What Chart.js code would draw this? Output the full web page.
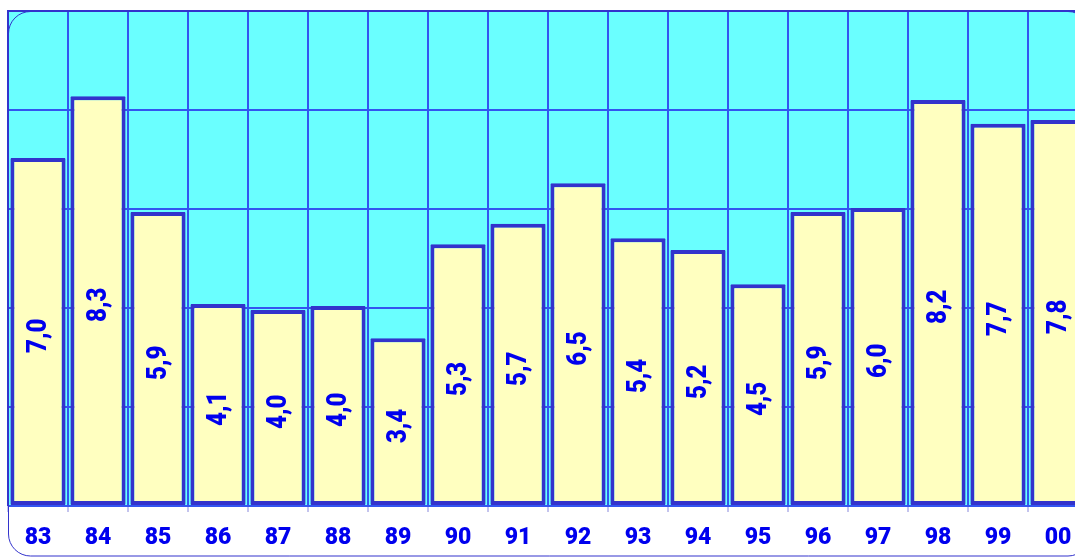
<!DOCTYPE html>
<html>
<head>
<meta charset="utf-8">
<script src="https://cdn.jsdelivr.net/npm/chart.js@4/dist/chart.umd.min.js"></script>
<style>
html,body{margin:0;padding:0;background:#fff;overflow:hidden;}
#wrap{width:1100px;height:557px;position:relative;}
</style>
</head>
<body>
<div id="wrap"><canvas id="c" width="1100" height="557"></canvas></div>
<script>
const categories = ['83','84','85','86','87','88','89','90','91','92','93','94','95','96','97','98','99','00'];
const values = [7.03, 8.28, 5.94, 4.08, 3.96, 4.04, 3.39, 5.29, 5.70, 6.52, 5.41, 5.17, 4.48, 5.94, 6.02, 8.20, 7.72, 7.80];
const valueLabels = ['7,0','8,3','5,9','4,1','4,0','4,0','3,4','5,3','5,7','6,5','5,4','5,2','4,5','5,9','6,0','8,2','7,7','7,8'];
const yTicks = [0, 2, 4, 6, 8, 10];

const FAMILY = 'Roboto, "Liberation Sans", sans-serif';
const LINE = '#3333cc';
const GRID = '#3355f0';
const TEXT = '#0000ee';

const bgPlugin = {
  id: 'bg',
  beforeDraw(chart) {
    const {ctx, chartArea: a} = chart;
    ctx.save();
    ctx.fillStyle = '#6affff';
    ctx.fillRect(a.left, a.top, a.right - a.left, a.bottom - a.top);
    ctx.restore();
  },
  afterDatasetsDraw(chart) {
    const {ctx, chartArea: a} = chart;
    const meta = chart.getDatasetMeta(0);
    ctx.save();
    ctx.fillStyle = TEXT;
    ctx.font = '900 28px ' + FAMILY;
    ctx.textAlign = 'center';
    ctx.textBaseline = 'middle';
    meta.data.forEach((bar, i) => {
      const cy = (bar.y + bar.base) / 2;
      ctx.save();
      ctx.translate(bar.x, cy);
      ctx.rotate(-Math.PI / 2);
      ctx.scale(0.86, 1);
      ctx.fillText(valueLabels[i], -5, 1);
      ctx.restore();
    });
    // plot frame top & left
    ctx.strokeStyle = LINE;
    ctx.lineWidth = 2;
    ctx.beginPath();
    ctx.moveTo(a.left, a.bottom);
    ctx.lineTo(a.left, a.top);
    ctx.lineTo(a.right, a.top);
    ctx.stroke();
    // outer rounded frame
    ctx.lineWidth = 1;
    const x0 = a.left + 0.5, y0 = a.top + 0.5, x1 = 1090, y1 = 556, r = 22;
    ctx.beginPath();
    ctx.moveTo(x0 + r, y0);
    ctx.lineTo(x1 - r, y0);
    ctx.arcTo(x1, y0, x1, y0 + r, r);
    ctx.lineTo(x1, y1 - r);
    ctx.arcTo(x1, y1, x1 - r, y1, r);
    ctx.lineTo(x0 + r, y1);
    ctx.arcTo(x0, y1, x0, y1 - r, r);
    ctx.lineTo(x0, y0 + r);
    ctx.arcTo(x0, y0, x0 + r, y0, r);
    ctx.stroke();
    ctx.restore();
  }
};

new Chart(document.getElementById('c'), {
  type: 'bar',
  data: {
    labels: categories,
    datasets: [{
      data: values,
      backgroundColor: '#ffffc0',
      borderColor: LINE,
      borderWidth: 4,
      borderSkipped: false,
      borderRadius: 1,
      barPercentage: 0.92,
      categoryPercentage: 1.0
    }]
  },
  options: {
    responsive: false,
    animation: false,
    layout: { padding: { left: 8, top: 11, right: 12, bottom: 0 } },
    plugins: { legend: { display: false }, tooltip: { enabled: false } },
    scales: {
      x: {
        afterFit(axis) { axis.height = 51; },
        grid: { display: true, color: GRID, lineWidth: 2, tickLength: 6, offset: true,
                tickColor: '#8888dd', tickWidth: 1 },
        border: { display: false },
        ticks: { color: TEXT, font: { family: FAMILY, size: 23, weight: '900' }, padding: 12, maxRotation: 0, autoSkip: false }
      },
      y: {
        min: 0, max: 10,
        afterBuildTicks(axis) { axis.ticks = yTicks.map(v => ({ value: v })); },
        grid: { color: GRID, lineWidth: 2, drawTicks: false },
        border: { display: false },
        ticks: { display: false }
      }
    }
  },
  plugins: [bgPlugin]
});
</script>
</body>
</html>
